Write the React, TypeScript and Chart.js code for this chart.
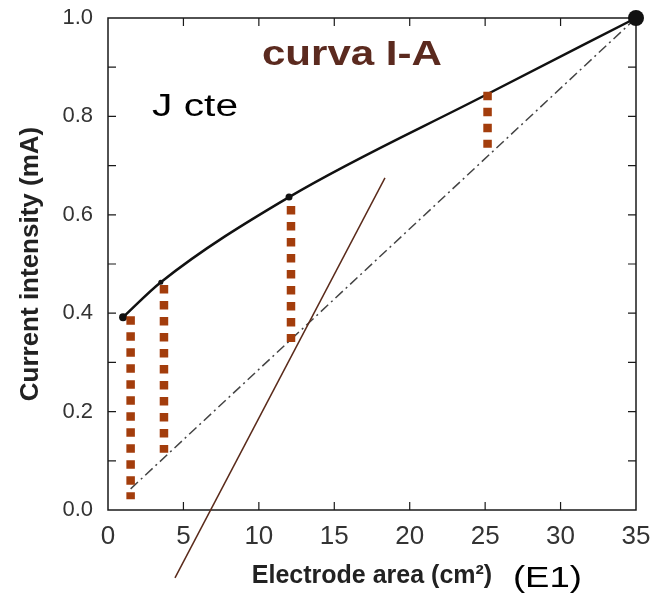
import React, { useEffect, useRef } from "react";
import { Chart, registerables } from "chart.js";

Chart.register(...registerables);

// I-A curve (electrode area in cm², current in mA)
const curveArea = [1, 3.5, 12, 25, 35];
const curveCurrent = [0.392, 0.463, 0.636, 0.843, 1.0];

// straight reference (constant current density)
const refArea = [1.5, 35];
const refCurrent = [0.043, 1.0];

// vertical gap markers
const gapArea = [1.5, 3.71, 12.13, 25.16];
const gapTop = [0.394, 0.4575, 0.618, 0.85];
const gapBottom = [0.022, 0.1165, 0.3415, 0.7365];

// thin brown slope line
const slopeArea = [4.44, 18.36];
const slopeCurrent = [-0.138, 0.675];

// axis ticks
const xTickValues = [0, 5, 10, 15, 20, 25, 30, 35];
const yTickValues = [0, 0.1, 0.2, 0.3, 0.4, 0.5, 0.6, 0.7, 0.8, 0.9, 1.0];

// annotations
const noteTexts = ["curva I-A", "J cte", "(E1)"];
const noteArea = [16.17, 5.77, 29.13];
const noteCurrent = [0.9045, 0.8, -0.156];

const FONT = "'Liberation Sans', Arial, Helvetica, sans-serif";

const framePlugin = {
  id: "frameTicks",
  beforeDatasetsDraw(chart: any) {
    const { ctx, chartArea } = chart;
    const { left, right, top, bottom } = chartArea;
    const xs = chart.scales.x;
    const ys = chart.scales.y;
    ctx.save();
    ctx.strokeStyle = "#1a1a1a";
    ctx.lineWidth = 1.5;
    ctx.strokeRect(left, top, right - left, bottom - top);
    ctx.lineWidth = 1.2;
    const tl = 8;
    ctx.beginPath();
    xTickValues.forEach((v) => {
      const px = xs.getPixelForValue(v);
      if (Math.abs(px - left) < 1 || Math.abs(px - right) < 1) return;
      ctx.moveTo(px, bottom);
      ctx.lineTo(px, bottom - tl);
      ctx.moveTo(px, top);
      ctx.lineTo(px, top + tl);
    });
    yTickValues.forEach((v) => {
      const py = ys.getPixelForValue(v);
      if (Math.abs(py - top) < 1 || Math.abs(py - bottom) < 1) return;
      ctx.moveTo(left, py);
      ctx.lineTo(left + tl, py);
      ctx.moveTo(right, py);
      ctx.lineTo(right - tl, py);
    });
    ctx.stroke();
    ctx.restore();
  },
};

const noteStyles = [
  { font: `bold 35px ${FONT}`, color: "#5B2A1F", width: 180 },
  { font: `31px ${FONT}`, color: "#000", width: 86 },
  { font: `30px ${FONT}`, color: "#000", width: 69 },
];

const textPlugin = {
  id: "notes",
  afterDraw(chart: any) {
    const { ctx } = chart;
    const xs = chart.scales.x;
    const ys = chart.scales.y;
    ctx.save();
    noteTexts.forEach((t, i) => {
      const st = noteStyles[i];
      const cx = xs.getPixelForValue(noteArea[i]);
      const by = ys.getPixelForValue(noteCurrent[i]);
      ctx.font = st.font;
      ctx.fillStyle = st.color;
      ctx.textAlign = "center";
      ctx.textBaseline = "alphabetic";
      const w = ctx.measureText(t).width;
      const sx = st.width / w;
      ctx.save();
      ctx.translate(cx, by);
      ctx.scale(sx, 1);
      ctx.fillText(t, 0, 0);
      ctx.restore();
    });
    ctx.restore();
  },
};

export default function App() {
  const ref = useRef<HTMLCanvasElement>(null);

  useEffect(() => {
    const canvas = ref.current!;
    const pts = (xa: number[], ya: number[]) => xa.map((x, i) => ({ x, y: ya[i] }));

    const gapSets = gapArea.map((a, i) => ({
      label: `gap ${i + 1}`,
      data: [
        { x: a, y: gapTop[i] },
        { x: a, y: gapBottom[i] },
      ],
      borderColor: "#A33D0C",
      borderWidth: 8.5,
      borderDash: [8.5, 7.5],
      borderCapStyle: "butt" as const,
      pointRadius: 0,
      order: 0,
    }));

    const chart = new Chart(canvas, {
      type: "line",
      data: {
        datasets: [
          ...gapSets,
          {
            label: "slope",
            data: pts(slopeArea, slopeCurrent),
            borderColor: "#5A2A1A",
            borderWidth: 1.5,
            pointRadius: 0,
            clip: false as any,
            order: 0,
          },
          {
            label: "I-A",
            data: pts(curveArea, curveCurrent),
            borderColor: "#111",
            borderWidth: 2.5,
            cubicInterpolationMode: "monotone",
            pointRadius: [4, 2.5, 3.5, 0, 8],
            pointBackgroundColor: "#111",
            pointBorderWidth: 0,
            clip: false as any,
            order: 1,
          },
          {
            label: "reference",
            data: pts(refArea, refCurrent),
            borderColor: "#444",
            borderWidth: 1.5,
            borderDash: [10, 4, 2, 4],
            pointRadius: 0,
            order: 2,
          },
        ],
      },
      options: {
        responsive: false,
        animation: false,
        devicePixelRatio: 1,
        layout: { padding: { top: 18, right: 19, left: 0, bottom: 0 } },
        plugins: { legend: { display: false }, tooltip: { enabled: false } },
        scales: {
          x: {
            type: "linear",
            min: 0,
            max: 35,
            afterBuildTicks: (s: any) => {
              s.ticks = xTickValues.map((v) => ({ value: v }));
            },
            ticks: {
              padding: 0,
              color: "#333",
              font: { family: FONT, size: 26 },
              maxRotation: 0,
              autoSkip: false,
            },
            grid: { display: false, drawTicks: true, tickLength: 11 },
            border: { display: false },
            title: {
              display: true,
              text: "Electrode area (cm²)",
              color: "#222",
              font: { family: FONT, size: 25, weight: "bold" },
              padding: { top: 0, bottom: 2 },
            },
            afterFit: (s: any) => {
              s.height = 83;
            },
          },
          y: {
            type: "linear",
            min: 0,
            max: 1,
            afterBuildTicks: (s: any) => {
              s.ticks = yTickValues.filter((_, i) => i % 2 === 0).map((v) => ({ value: v }));
            },
            ticks: {
              padding: 0,
              color: "#333",
              font: { family: FONT, size: 22 },
              callback: (v: any) => Number(v).toFixed(1),
            },
            grid: { display: false, drawTicks: true, tickLength: 15 },
            border: { display: false },
            title: {
              display: true,
              text: "Current intensity (mA)",
              color: "#222",
              font: { family: FONT, size: 26, weight: "bold" },
              padding: { top: 15, bottom: 0 },
            },
            afterFit: (s: any) => {
              s.width = 108;
            },
          },
        },
      } as any,
      plugins: [framePlugin, textPlugin],
    });
    return () => chart.destroy();
  }, []);

  return (
    <div style={{ position: "fixed", left: 0, top: 0, width: 655, height: 593, background: "#fff" }}>
      <canvas ref={ref} width={655} height={593} style={{ display: "block" }} />
    </div>
  );
}
